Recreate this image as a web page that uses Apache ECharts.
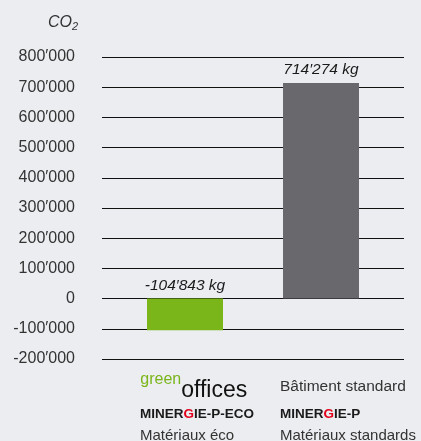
<!DOCTYPE html>
<html>
<head>
<meta charset="utf-8">
<script src="https://cdn.jsdelivr.net/npm/echarts@6/dist/echarts.min.js"></script>
<style>
  html, body { margin: 0; padding: 0; background: #ecedf0; }
  #chart { width: 421px; height: 441px; }
</style>
</head>
<body>
<div id="chart"></div>
<script>
// values
const categories = ['greenoffices', 'Bâtiment standard']
const co2Values = [-104843, 714274]
const barColors = ['#7ab51a', '#69686c']
const yMin = -200000
const yMax = 800000
const yStep = 100000
const categoryLabels = [
  '{z| }{g|green}{o|offices}\n{m|MINER}{r|G}{m|IE-P-ECO}\n{t|Matériaux éco}',
  '{s|Bâtiment standard}\n{m|MINER}{r|G}{m|IE-P}\n{t|Matériaux standards}'
]

const FONT = 'Liberation Sans, Arial, sans-serif'
const TEXT = '#333'

function fmt(v) {
  const s = String(Math.abs(v)).replace(/\B(?=(\d{3})+(?!\d))/g, '\u2032')
  return (v < 0 ? '-' : '') + s
}

const chart = echarts.init(document.getElementById('chart'))

const option = {
  backgroundColor: '#ecedf0',
  animation: false,
  title: {
    left: 43,
    top: 9,
    text: '{a|CO}{b|2}',
    textStyle: {
      rich: {
        a: { fontFamily: FONT, fontStyle: 'italic', fontWeight: 'normal', fontSize: 16, color: TEXT, lineHeight: 18 },
        b: { fontFamily: FONT, fontStyle: 'italic', fontWeight: 'normal', fontSize: 11, color: TEXT, verticalAlign: 'bottom', lineHeight: 6 }
      }
    }
  },
  grid: [
    // grid lines + y labels
    { left: 102, right: 17, top: 57, bottom: 82, outerBoundsMode: 'none' },
    // bars
    { left: 117, right: 32, top: 57, bottom: 82, outerBoundsMode: 'none' },
    // category labels, allowed to run to the bottom edge
    { left: 70, right: 71, top: 57, bottom: 82, outerBoundsMode: 'none' }
  ],
  xAxis: [
    { gridIndex: 0, type: 'category', data: categories, show: false },
    { gridIndex: 1, type: 'category', data: categories, show: false },
    {
      gridIndex: 2,
      type: 'category',
      data: categoryLabels,
      axisLine: { show: false },
      axisTick: { show: false },
      axisLabel: {
        interval: 0,
        align: 'left',
        margin: 13,
        rich: {
          z: { fontSize: 1, lineHeight: 30 },
          g: { fontFamily: FONT, fontSize: 16, color: '#7ab51a', verticalAlign: 'top', lineHeight: 16 },
          o: { fontFamily: FONT, fontSize: 23, color: '#111', verticalAlign: 'bottom', lineHeight: 24 },
          s: { fontFamily: FONT, fontSize: 15.5, color: TEXT, lineHeight: 30 },
          m: { fontFamily: FONT, fontSize: 13.5, fontWeight: 'bold', color: '#1a1a1a', lineHeight: 24 },
          r: { fontFamily: FONT, fontSize: 13.5, fontWeight: 'bold', color: '#e2001a', lineHeight: 24 },
          t: { fontFamily: FONT, fontSize: 15, color: TEXT, lineHeight: 20 }
        }
      }
    }
  ],
  yAxis: [
    {
      gridIndex: 0,
      type: 'value',
      min: yMin,
      max: yMax,
      interval: yStep,
      axisLine: { show: false },
      axisTick: { show: false },
      axisLabel: {
        margin: 27,
        fontFamily: FONT,
        fontSize: 16,
        color: TEXT,
        formatter: fmt
      },
      splitLine: { lineStyle: { color: '#111', width: 1 } }
    },
    { gridIndex: 1, type: 'value', min: yMin, max: yMax, interval: yStep, show: false },
    { gridIndex: 2, type: 'value', min: yMin, max: yMax, interval: yStep, show: false }
  ],
  series: [
    {
      type: 'bar',
      xAxisIndex: 1,
      yAxisIndex: 1,
      barWidth: 76,
      data: co2Values.map((v, i) => ({
        value: v,
        itemStyle: { color: barColors[i] }
      })),
      label: {
        show: true,
        position: 'top',
        distance: 5,
        fontFamily: FONT,
        fontStyle: 'italic',
        fontSize: 15.5,
        color: '#1a1a1a',
        formatter: p => fmt(p.value) + ' kg'
      }
    }
  ]
}

chart.setOption(option)
</script>
</body>
</html>
